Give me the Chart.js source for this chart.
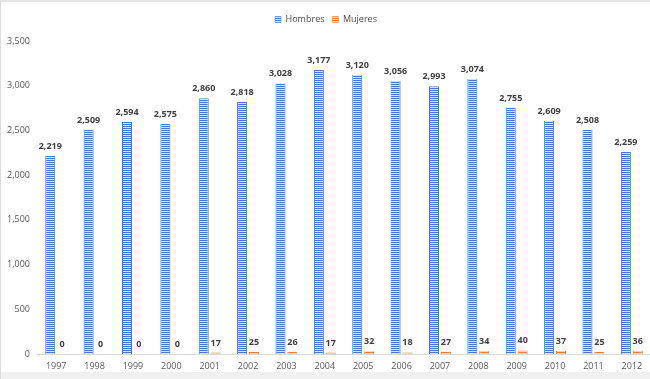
<!DOCTYPE html>
<html>
<head>
<meta charset="utf-8">
<script src="https://cdn.jsdelivr.net/npm/chart.js@4/dist/chart.umd.min.js"></script>
<style>
html, body { margin: 0; padding: 0; width: 650px; height: 379px; overflow: hidden; background: #f0f0f0; }
#box { position: absolute; left: 1px; top: 2px; width: 655px; height: 370px; background: #fff; }
#topline { position: absolute; left: 0; top: 0; width: 650px; height: 2px; background: #e4e4e4; }
#leftline { position: absolute; left: 0; top: 0; width: 1px; height: 379px; background: #dcdcdc; }
</style>
</head>
<body>
<div id="topline"></div>
<div id="leftline"></div>
<div id="box"><canvas id="chart" width="655" height="370"></canvas></div>
<script>
// datos
var years = ['1997', '1998', '1999', '2000', '2001', '2002', '2003', '2004',
             '2005', '2006', '2007', '2008', '2009', '2010', '2011', '2012'];
var hombres = [2219, 2509, 2594, 2575, 2860, 2818, 3028, 3177, 3120, 3056, 2993, 3074, 2755, 2609, 2508, 2259];
var mujeres = [0, 0, 0, 0, 17, 25, 26, 17, 32, 18, 27, 34, 40, 37, 25, 36];
var yTicks = [0, 500, 1000, 1500, 2000, 2500, 3000, 3500];

var FONT = '"Open Sans", "DejaVu Sans", sans-serif';

// relleno rayado horizontal como en Excel
function stripes(dark, light) {
    var c = document.createElement('canvas');
    c.width = 4; c.height = 2;
    var g = c.getContext('2d');
    g.fillStyle = light; g.fillRect(0, 0, 4, 2);
    g.fillStyle = dark; g.fillRect(0, 0, 4, 1);
    return document.getElementById('chart').getContext('2d').createPattern(c, 'repeat');
}

var bluePattern = stripes('#4a77cc', '#d3e0f6');
var orangePattern = stripes('#ed7d31', '#f9cfae');

// etiquetas de valor encima de cada barra
var valueLabels = {
    id: 'valueLabels',
    afterDatasetsDraw: function (chart) {
        var ctx = chart.ctx;
        ctx.save();
        ctx.font = 'bold 9px ' + FONT;
        ctx.fillStyle = '#404040';
        ctx.textAlign = 'center';
        ctx.textBaseline = 'bottom';
        chart.data.datasets.forEach(function (ds, i) {
            chart.getDatasetMeta(i).data.forEach(function (bar, j) {
                ctx.fillText(ds.data[j].toLocaleString('en-US'), bar.x, bar.y - 5);
            });
        });
        ctx.restore();
    }
};

var ctx = document.getElementById('chart').getContext('2d');
var chart = new Chart(ctx, {
    type: 'bar',
    data: {
        labels: years,
        datasets: [{
            label: 'Hombres',
            data: hombres,
            backgroundColor: bluePattern,
            borderColor: '#4472c4',
            borderWidth: { left: 1, right: 1, top: 0, bottom: 0 },
            categoryPercentage: 0.62,
            barPercentage: 0.84
        }, {
            label: 'Mujeres',
            data: mujeres,
            backgroundColor: orangePattern,
            borderColor: '#ed7d31',
            borderWidth: { left: 1, right: 1, top: 0, bottom: 0 },
            categoryPercentage: 0.62,
            barPercentage: 0.84
        }]
    },
    options: {
        responsive: false,
        animation: false,
        layout: { padding: { left: 0, right: 5, top: 5, bottom: 0 } },
        plugins: {
            legend: {
                position: 'top',
                labels: {
                    boxWidth: 6,
                    boxHeight: 6,
                    padding: 8,
                    color: '#4d4d4d',
                    font: { family: FONT, size: 9 }
                }
            },
            // espacio vacío entre la leyenda y el gráfico
            title: {
                display: true,
                text: ' ',
                weight: 500,
                padding: 0,
                font: { size: 7, lineHeight: 1 }
            },
            tooltip: { enabled: false }
        },
        scales: {
            x: {
                grid: { display: false, drawTicks: false },
                border: { display: true, color: '#d9d9d9' },
                ticks: { color: '#595959', padding: 7, font: { family: FONT, size: 9 } },
                afterFit: function (s) { s.height = 18; }
            },
            y: {
                min: 0,
                max: 3500,
                afterBuildTicks: function (s) { s.ticks = yTicks.map(function (v) { return { value: v }; }); },
                grid: { display: false, drawTicks: false },
                border: { display: false },
                ticks: {
                    color: '#595959',
                    padding: 7,
                    font: { family: FONT, size: 9 },
                    callback: function (v) { return v.toLocaleString('en-US'); }
                },
                afterFit: function (s) { s.width = 36; }
            }
        }
    },
    plugins: [valueLabels]
});
</script>
</body>
</html>
